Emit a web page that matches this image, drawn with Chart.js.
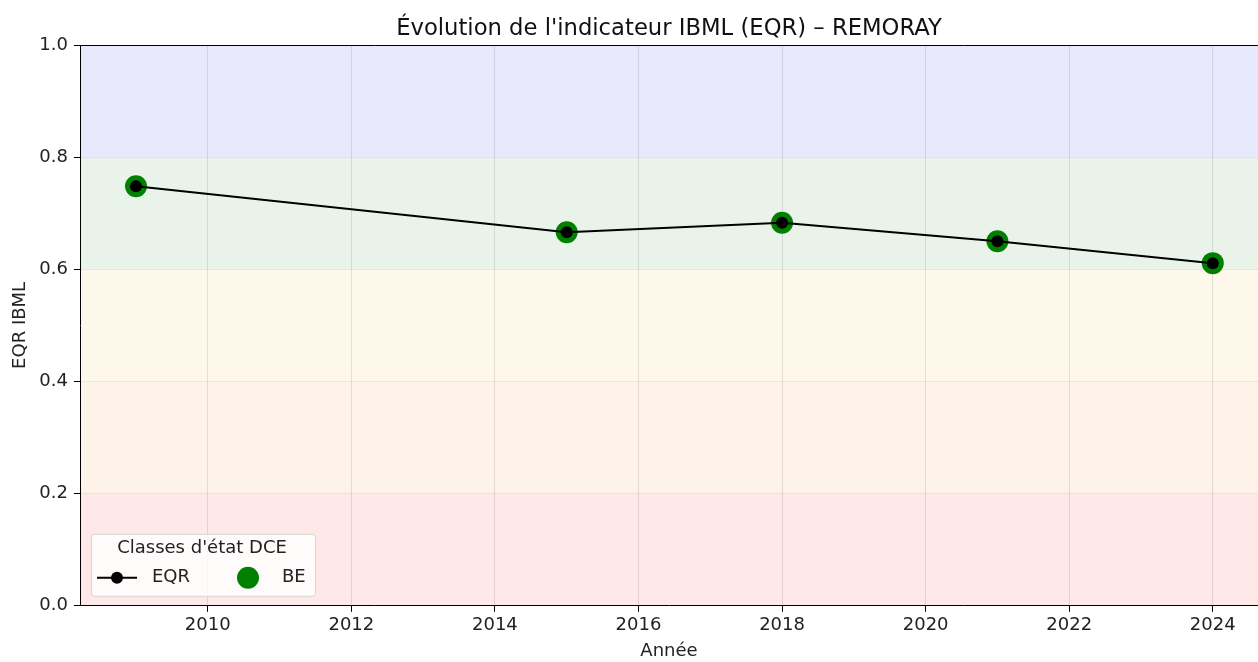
<!DOCTYPE html>
<html>
<head>
<meta charset="utf-8">
<script src="https://cdn.jsdelivr.net/npm/chart.js@4/dist/chart.umd.min.js"></script>
<style>
    html, body { margin: 0; padding: 0; background: #fff; overflow: hidden; }
    #wrap { position: relative; width: 1258px; height: 662px; }
</style>
</head>
<body>
<div id="wrap"><canvas id="ibmlChart"></canvas></div>
<script>
// données
const chartTitle = "Évolution de l'indicateur IBML (EQR) – REMORAY";
const years = [2009, 2015, 2018, 2021, 2024];
const eqrValues = [0.748, 0.666, 0.683, 0.650, 0.611];
const classLabels = ['BE', 'BE', 'BE', 'BE', 'BE'];
const xTicks = [2010, 2012, 2014, 2016, 2018, 2020, 2022, 2024];
const yTicks = [0.0, 0.2, 0.4, 0.6, 0.8, 1.0];
const bandLimits = [0, 0.2, 0.4, 0.6, 0.8, 1.0];
const bandColors = ['#ffe8e8', '#fdf3e8', '#fef8eb', '#e9f3e9', '#e8e8fd'];

const FONT = "'DejaVu Sans', sans-serif";

const bandsPlugin = {
    id: 'bands',
    beforeDraw(chart) {
        const { ctx, chartArea, scales } = chart;
        ctx.save();
        for (let i = 0; i < bandColors.length; i++) {
            const yTop = scales.y.getPixelForValue(bandLimits[i + 1]);
            const yBot = scales.y.getPixelForValue(bandLimits[i]);
            ctx.fillStyle = bandColors[i];
            ctx.fillRect(chartArea.left, yTop, chartArea.right - chartArea.left, yBot - yTop);
        }
        ctx.restore();
    },
    afterDraw(chart) {
        const { ctx, chartArea } = chart;
        ctx.save();

        // titre centré sur la zone de tracé (comme matplotlib)
        ctx.fillStyle = '#111';
        ctx.font = '22.7px ' + FONT;
        ctx.textAlign = 'center';
        ctx.textBaseline = 'middle';
        ctx.fillText(chartTitle, (chartArea.left + chartArea.right) / 2, 29);

        ctx.strokeStyle = '#000';
        ctx.lineWidth = 1;
        ctx.beginPath();
        ctx.moveTo(chartArea.left, chartArea.top + 0.5);
        ctx.lineTo(chartArea.right, chartArea.top + 0.5);
        ctx.stroke();

        // légende type matplotlib, en bas à gauche
        const bx = chartArea.left + 11, by = chartArea.bottom - 72;
        const bw = 224, bh = 62;
        ctx.fillStyle = 'rgba(255,255,255,.8)';
        ctx.strokeStyle = '#d6d6d6';
        ctx.beginPath();
        ctx.roundRect(bx + 0.5, by + 0.5, bw, bh, 3);
        ctx.fill();
        ctx.stroke();

        ctx.fillStyle = '#222';
        ctx.font = '18px ' + FONT;
        ctx.textBaseline = 'middle';
        ctx.textAlign = 'center';
        ctx.fillText("Classes d'état DCE", bx + 111, by + 15);

        const ry = by + 44;
        ctx.strokeStyle = '#000';
        ctx.lineWidth = 2;
        ctx.beginPath();
        ctx.moveTo(bx + 6, ry);
        ctx.lineTo(bx + 46, ry);
        ctx.stroke();
        ctx.fillStyle = '#000';
        ctx.beginPath();
        ctx.arc(bx + 26, ry, 6, 0, Math.PI * 2);
        ctx.fill();

        ctx.fillStyle = '#008000';
        ctx.beginPath();
        ctx.arc(bx + 157, ry, 11, 0, Math.PI * 2);
        ctx.fill();

        ctx.fillStyle = '#222';
        ctx.textAlign = 'left';
        ctx.fillText(chart.data.datasets[0].label, bx + 61, ry);
        ctx.fillText(classLabels[0], bx + 191, ry);
        ctx.restore();
    }
};

new Chart(document.getElementById('ibmlChart'), {
    type: 'scatter',
    data: {
        datasets: [{
                type: 'line',
                label: 'EQR',
                data: years.map((y, i) => ({ x: y, y: eqrValues[i] })),
                borderColor: '#000',
                backgroundColor: '#000',
                borderWidth: 2,
                pointRadius: 6,
                pointBorderWidth: 0,
                tension: 0,
                fill: false,
                order: 0
            }, {
                label: 'BE',
                data: years.map((y, i) => ({ x: y, y: eqrValues[i] })),
                backgroundColor: '#008000',
                borderWidth: 0,
                pointRadius: 11,
                order: 1
            }]
    },
    options: {
        responsive: true,
        maintainAspectRatio: false,
        animation: false,
        layout: {
            autoPadding: false,
            padding: { top: 45, left: 0, right: 0, bottom: 0 }
        },
        plugins: {
            legend: { display: false },
            tooltip: { enabled: false },
            title: { display: false }
        },
        scales: {
            x: {
                type: 'linear',
                min: 2008.22,
                max: 2024.63,
                afterBuildTicks: (scale) => {
                    scale.ticks = xTicks.map(v => ({ value: v }));
                },
                afterFit: (scale) => {
                    scale.paddingLeft = 0;
                    scale.paddingRight = 0;
                },
                ticks: {
                    color: '#222',
                    font: { family: FONT, size: 18 },
                    padding: 3,
                    maxRotation: 0,
                    callback: (v) => String(v)
                },
                grid: {
                    color: 'rgba(0,0,0,.1)',
                    tickColor: '#000',
                    tickLength: 6
                },
                border: { color: '#000', width: 1 },
                title: {
                    display: true,
                    text: 'Année',
                    color: '#222',
                    font: { family: FONT, size: 18 },
                    padding: { top: 1, bottom: 0 }
                }
            },
            y: {
                min: 0,
                max: 1,
                afterBuildTicks: (scale) => {
                    scale.ticks = yTicks.map(v => ({ value: v }));
                },
                afterFit: (scale) => {
                    scale.width = 80;
                },
                ticks: {
                    color: '#222',
                    font: { family: FONT, size: 18 },
                    padding: 6,
                    callback: (v) => v.toFixed(1)
                },
                grid: {
                    color: 'rgba(0,0,0,.07)',
                    tickColor: '#000',
                    tickLength: 6
                },
                border: { color: '#000', width: 1 },
                title: {
                    display: true,
                    text: 'EQR IBML',
                    color: '#222',
                    font: { family: FONT, size: 18 },
                    padding: { top: 10, bottom: 0 }
                }
            }
        }
    },
    plugins: [bandsPlugin]
});
</script>
</body>
</html>
